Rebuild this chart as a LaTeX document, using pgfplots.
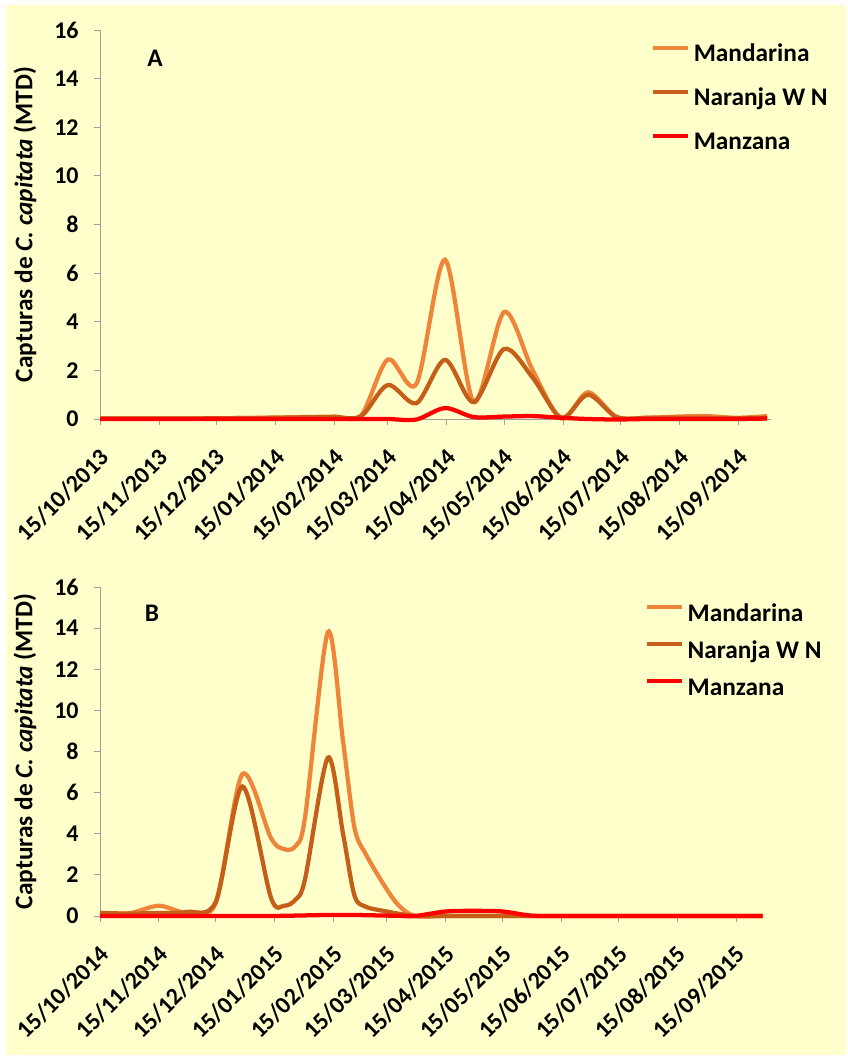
\documentclass[border=0pt]{standalone}
\usepackage{fontspec}
\setmainfont{Carlito}
\usepackage{pgfplots}
\usepackage{pgfplotstable}
\pgfplotsset{compat=1.18}
\definecolor{bgyellow}{RGB}{255,255,204}
\definecolor{mand}{RGB}{238,133,58}
\definecolor{nar}{RGB}{196,94,24}
\definecolor{manz}{RGB}{255,0,0}
\definecolor{axgray}{RGB}{160,160,160}

% days since 15/10/2013
\pgfplotstableread{
day mand nar manz
0   0.02 0.02 0
15  0.02 0.02 0
31  0.02 0.02 0
46  0.02 0.02 0
61  0.03 0.03 0
76  0.04 0.04 0
92  0.06 0.05 0
107 0.08 0.07 0
123 0.10 0.08 0
137 0.15 0.12 0
151 2.45 1.40 0
166 1.45 0.65 -0.02
181 6.55 2.43 0.45
196 0.70 0.70 0.08
212 4.40 2.88 0.10
227 2.00 1.70 0.12
242 0.02 0.05 0.05
256 1.10 1.00 0.00
271 0.08 0.08 -0.02
287 0.05 0.05 0
303 0.10 0.05 0
318 0.12 0.05 0
334 0.05 0.03 0
350 0.12 0.05 0.02
}\dataA

% days since 15/10/2014
\pgfplotstableread{
day mand nar manz
0   0.15 0.15 0
15  0.12 0.12 0
31  0.50 0.15 0
46  0.15 0.20 0
61  0.65 0.70 0
75  6.90 6.30 0
90  3.80 0.90 0
97  3.25 0.50 0.01
103 3.40 0.80 0.02
108 4.80 1.80 0.03
120 13.8 7.70 0.05
128 8.50 4.00 0.05
134 4.30 1.00 0.05
140 3.00 0.45 0.04
151 1.30 0.22 0.02
158 0.45 0.10 0.01
166 0.00 0.00 0.00
182 0.00 0.00 0.22
197 0.00 0.00 0.25
212 0.00 0.00 0.22
227 0.00 0.00 0.02
243 0.00 0.00 0
258 0.00 0.00 0
273 0.00 0.00 0
288 0.00 0.00 0
304 0.00 0.00 0
319 0.00 0.00 0
335 0.00 0.00 0
349 0.00 0.00 0
}\dataB

\pgfplotsset{
  panel/.style={
    scale only axis,
    axis lines*=left,
    axis line style={axgray, line width=0.75pt},
    xmin=0, ymin=0, ymax=16,
    ytick={0,2,...,16},
    xtick={0,31,61,92,123,151,182,212,243,273,304,335},
    tick align=outside,
    major tick length=4.5pt,
    tick style={axgray, line width=0.75pt},
    /pgf/number format/assume math mode=true,
    yticklabel style={font=\bfseries\fontsize{18}{21}\selectfont, anchor=east, xshift=-8pt},
    xticklabel style={font=\bfseries\fontsize{18}{21}\selectfont, xshift=6pt, yshift=-19pt, rotate=45, anchor=east},
    ylabel={Capturas de \textit{C. capitata} (MTD)},
    ylabel style={font=\bfseries\fontsize{19}{22}\selectfont, anchor=center},
    legend style={draw=none, fill=none, font=\bfseries\fontsize{19}{22}\selectfont, anchor=north west, inner sep=0pt, column sep=3pt,
      nodes={inner sep=0pt, text height=13.5pt, text depth=4pt}},
    legend cell align=left,
    legend image code/.code={\draw[#1, line width=3pt] (0pt,5.5pt) -- (26pt,5.5pt);},
    every axis plot/.append style={line width=3.2pt, smooth, tension=0.5},
    clip=false,
  }
}

\begin{document}
\begin{tikzpicture}
\fill[white] (0pt,0pt) rectangle (636pt,-795pt);
\fill[bgyellow] (4.5pt,-3.75pt) rectangle (634.5pt,-791.25pt);

\begin{axis}[panel,
  at={(75pt,-314.25pt)}, anchor=south west,
  width=503.25pt, height=291.75pt,
  xmax=352,
  xticklabels={15/10/2013,15/11/2013,15/12/2013,15/01/2014,15/02/2014,15/03/2014,15/04/2014,15/05/2014,15/06/2014,15/07/2014,15/08/2014,15/09/2014},
  ylabel style={at={(axis description cs:-0.1118,0.5)}},
  legend style={at={(axis description cs:0.821,0.966)}, row sep=15.5pt},
]
\addplot[mand] table[x=day,y=mand] {\dataA};
\addlegendentry{Mandarina}
\addplot[nar] table[x=day,y=nar] {\dataA};
\addlegendentry{Naranja W N}
\addplot[manz] table[x=day,y=manz] {\dataA};
\addlegendentry{Manzana}
\node[font=\bfseries\fontsize{19}{22}\selectfont] at (axis description cs:0.082,0.928) {A};
\end{axis}

\begin{axis}[panel,
  at={(75pt,-687pt)}, anchor=south west,
  width=497pt, height=246.75pt,
  xmax=349,
  xticklabels={15/10/2014,15/11/2014,15/12/2014,15/01/2015,15/02/2015,15/03/2015,15/04/2015,15/05/2015,15/06/2015,15/07/2015,15/08/2015,15/09/2015},
  ylabel style={at={(axis description cs:-0.1131,0.5)}},
  legend style={at={(axis description cs:0.822,0.952)}, row sep=10.25pt},
]
\addplot[mand] table[x=day,y=mand] {\dataB};
\addlegendentry{Mandarina}
\addplot[nar] table[x=day,y=nar] {\dataB};
\addlegendentry{Naranja W N}
\addplot[manz] table[x=day,y=manz] {\dataB};
\addlegendentry{Manzana}
\node[font=\bfseries\fontsize{19}{22}\selectfont] at (axis description cs:0.0784,0.921) {B};
\end{axis}
\end{tikzpicture}
\end{document}
